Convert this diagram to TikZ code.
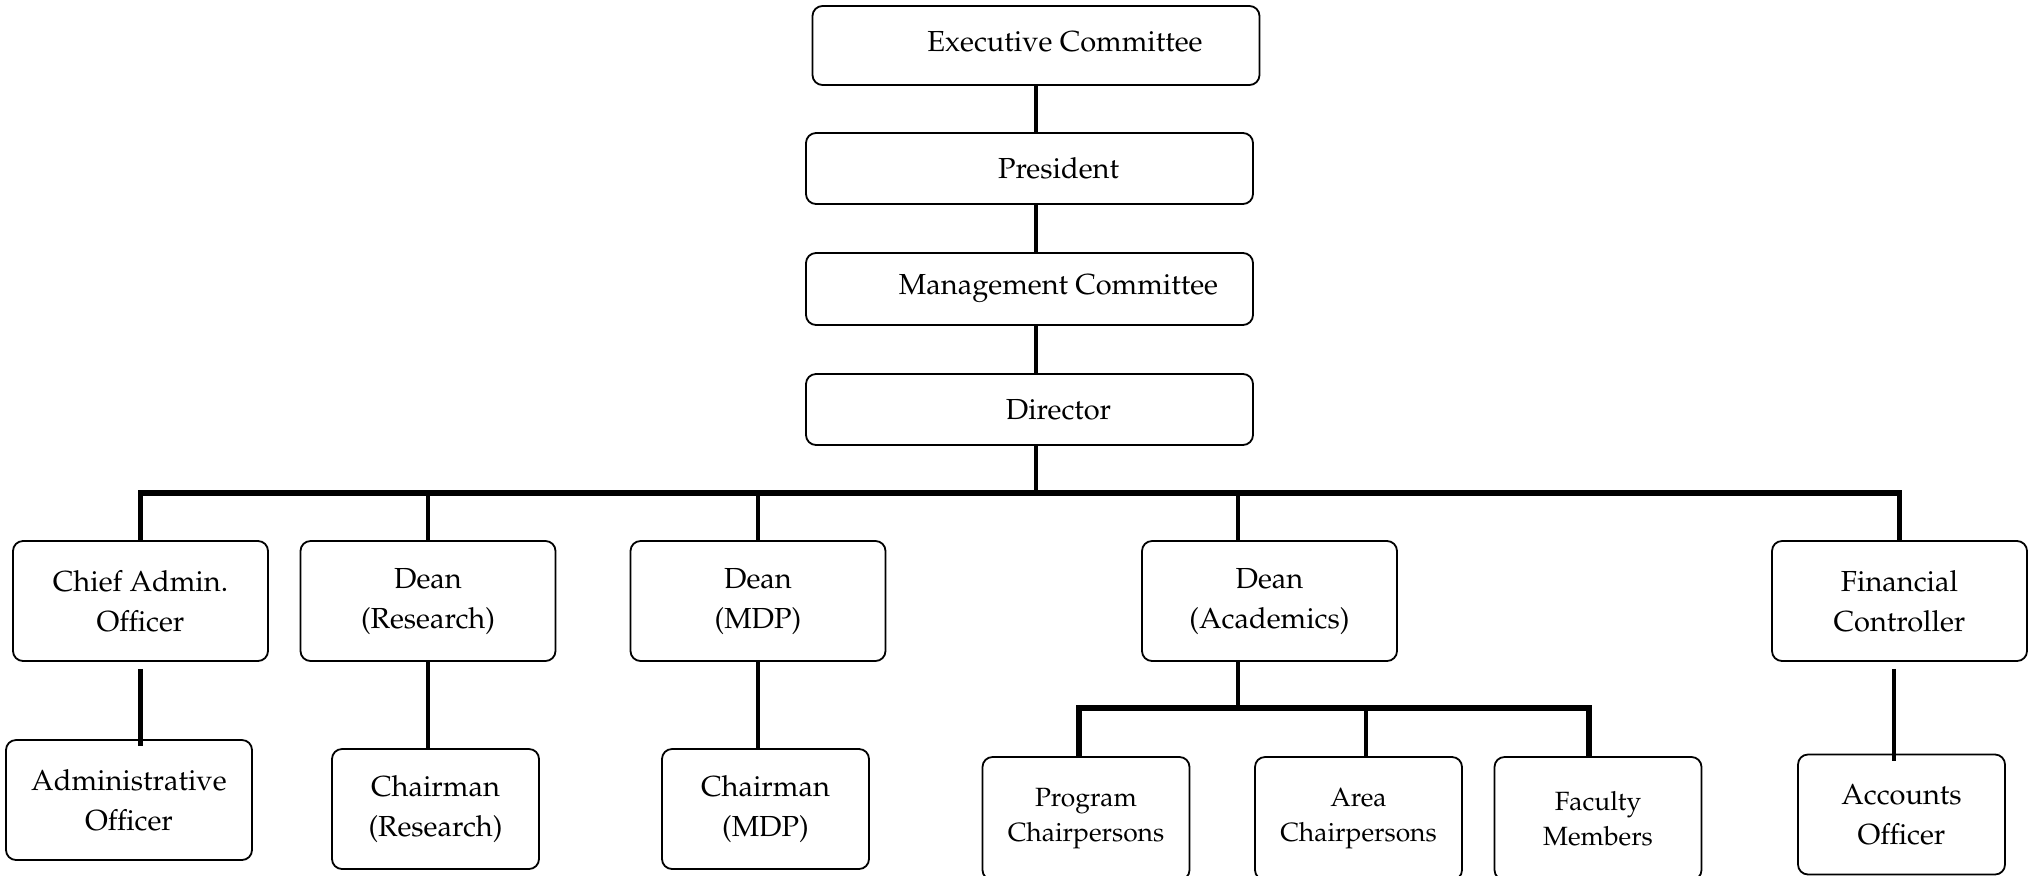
\documentclass[tikz,border=0pt]{standalone}
\usepackage[T1]{fontenc}
\usepackage{mathpazo}
\usepackage{tikz}
\usetikzlibrary{positioning}

\begin{document}
\begin{tikzpicture}[x=0.5pt,y=-0.5pt,
	box/.style={draw,rounded corners=5pt,line width=0.9pt,align=center,inner sep=0pt,
		font=\fontsize{14.5}{20}\selectfont},
	topbox/.style={draw,rounded corners=5pt,line width=0.9pt,inner sep=0pt,
		font=\fontsize{14.5}{20}\selectfont,minimum width=223.5pt,minimum height=35.5pt,
		execute at begin node=\hspace*{29pt}},
	midbox/.style={box,minimum width=127.5pt,minimum height=60pt},
	lowbox/.style={box,minimum width=103.5pt,minimum height=60pt},
	small/.style={font=\fontsize{13.2}{17.5}\selectfont},
	link/.style={line width=2.3pt},
	bus/.style={line width=2.6pt}]
	\useasboundingbox (0,0) rectangle (2028,875);
	\node[topbox,minimum height=39.5pt,text depth=4.5pt] (exec) at (1036,45.5) {Executive Committee};
	\node[topbox] (pres) at (1029.5,168.5) {President};
	\node[topbox,minimum height=36pt] (mgmt) at (1029.5,289) {Management Committee};
	\node[topbox] (dir) at (1029.5,409.5) {Director};
	\coordinate (bus) at (1036,493);
	\coordinate (abus) at (1238,708);
	\node[midbox] (cao) at (140.5,601) {Chief Admin.\\Officer};
	\node[midbox] (dres) at (428,601) {Dean\\(Research)};
	\node[midbox] (dmdp) at (758,601) {Dean\\(MDP)};
	\node[midbox] (dacad) at (1269.5,601) {Dean\\(Academics)};
	\node[midbox] (fc) at (1899.5,601) {Financial\\Controller};
	\node[box,minimum width=123pt,minimum height=60pt] (ao) at (129,800) {Administrative\\Officer};
	\node[lowbox] (cres) at (435.5,809) {Chairman\\(Research)};
	\node[lowbox] (cmdp) at (765.5,809) {Chairman\\(MDP)};
	\node[lowbox,small,minimum height=61.5pt] (pc) at (1086,818.5) {Program\\Chairpersons};
	\node[lowbox,small,minimum height=61.5pt] (ac) at (1358.5,818.5) {Area\\Chairpersons};
	\node[lowbox,small,minimum height=61.5pt] (fm) at (1598,818.5) {Faculty\\Members};
	\node[lowbox] (acc) at (1901.5,814.5) {Accounts\\Officer};
	\draw[link] (exec.south) -- (exec.south |- pres.north);
	\draw[link] (exec.south |- pres.south) -- (exec.south |- mgmt.north);
	\draw[link] (exec.south |- mgmt.south) -- (exec.south |- dir.north);
	\draw[link] (exec.south |- dir.south) -- (bus);
	\draw[bus] (cao.north) -- (cao.north |- bus) -- (fc.north |- bus) -- (fc.north);
	\foreach \n in {dres,dmdp}
		\draw[link] (\n.north |- bus) -- (\n.north);
	\draw[link] ([xshift=-15.75pt]dacad.north |- bus) -- ([xshift=-15.75pt]dacad.north);
	\draw[link] ([yshift=-3.5pt]cao.south) -- ([yshift=-3.5pt]cao.south |- ao.north);
	\draw[link] (dres.south) -- (dres.south |- cres.north);
	\draw[link] (dmdp.south) -- (dmdp.south |- cmdp.north);
	\draw[link] ([xshift=-15.75pt]dacad.south) -- (abus);
	\draw[bus] ([xshift=-3.5pt]pc.north) -- ([xshift=-3.5pt]pc.north |- abus)
		-- ([xshift=-4.5pt]fm.north |- abus) -- ([xshift=-4.5pt]fm.north);
	\draw[link] ([xshift=3.75pt]ac.north |- abus) -- ([xshift=3.75pt]ac.north);
	\draw[link] ([xshift=-2.75pt,yshift=-3.5pt]fc.south) -- ([xshift=-2.75pt,yshift=-3.5pt]fc.south |- acc.north);
\end{tikzpicture}
\end{document}
